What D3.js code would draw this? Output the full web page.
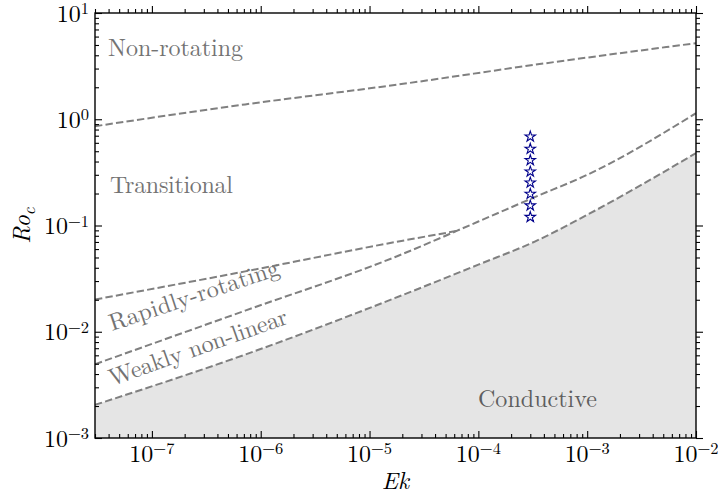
<!DOCTYPE html>
<html><head><meta charset="utf-8">
<script src="https://cdn.jsdelivr.net/npm/d3@7"></script>
<style>body{margin:0;background:#fff}svg{display:block}</style>
</head><body><svg id="c" width="718" height="497"></svg>
<script>
// ---- data ----
const xDomain = [3e-8, 1e-2];
const yDomain = [1e-3, 1e1];
const xTickValues = [1e-7, 1e-6, 1e-5, 1e-4, 1e-3, 1e-2];
const xTickExps = ["−7", "−6", "−5", "−4", "−3", "−2"];
const yTickValues = [1e-3, 1e-2, 1e-1, 1e0, 1e1];
const yTickExps = ["−3", "−2", "−1", "0", "1"];

// Non-rotating / Transitional boundary
const ekNonRot = [3e-8, 7.2e-7, 1.7e-5, 4.1e-4, 1e-2];
const roNonRot = [0.86, 1.38, 2.1, 3.36, 5.2];
// Transitional / Rapidly-rotating boundary
const ekTrans = [3e-8, 7.2e-7, 1.7e-5, 6.6e-5];
const roTrans = [0.0201, 0.037, 0.0697, 0.0895];
// Rapidly-rotating / Weakly non-linear boundary
const ekRapid = [3e-8, 7.2e-7, 1.7e-5, 1e-4, 3.3e-4, 1e-3, 1e-2];
const roRapid = [0.00495, 0.0158, 0.0503, 0.109, 0.185, 0.3, 1.14];
// Onset of convection (Conductive boundary)
const ekOnset = [3e-8, 7.2e-7, 1.7e-5, 1e-4, 3.3e-4, 1e-3, 1e-2];
const roOnset = [0.00205, 0.0061, 0.0207, 0.0428, 0.0706, 0.126, 0.48];
// Simulations
const ekSims = [3e-4, 3e-4, 3e-4, 3e-4, 3e-4, 3e-4, 3e-4, 3e-4];
const roSims = [0.686, 0.526, 0.411, 0.321, 0.253, 0.198, 0.154, 0.120];

const regionNames = ["Non-rotating", "Transitional", "Rapidly-rotating", "Weakly non-linear", "Conductive"];

// ---- layout ----
const L = 95, R = 696, T = 13, B = 438;
const FONT = '"Latin Modern Roman", "Liberation Serif", "Times New Roman", serif';
const svg = d3.select("#c");
const x = d3.scaleLog().domain(xDomain).range([L, R]);
const y = d3.scaleLog().domain(yDomain).range([B, T]);

const zip = (a, b) => a.map((v, i) => [v, b[i]]);
const line = d3.line().x(d => x(d[0])).y(d => y(d[1])).curve(d3.curveMonotoneX);

svg.append("clipPath").attr("id", "clip").append("rect")
  .attr("x", L).attr("y", T).attr("width", R - L).attr("height", B - T);
const plot = svg.append("g").attr("clip-path", "url(#clip)");

// conductive fill
plot.append("path")
  .datum(zip(ekOnset, roOnset))
  .attr("d", d3.area().x(d => x(d[0])).y0(y(yDomain[0])).y1(d => y(d[1])).curve(d3.curveMonotoneX))
  .attr("fill", "#e5e5e5");

// boundary lines
[[ekNonRot, roNonRot], [ekTrans, roTrans], [ekRapid, roRapid], [ekOnset, roOnset]].forEach(([a, b]) => {
  plot.append("path").datum(zip(a, b)).attr("d", line)
    .attr("fill", "none").attr("stroke", "#808080").attr("stroke-width", 2)
    .attr("stroke-dasharray", "7.4,3.2");
});

// stars
plot.selectAll(".star").data(zip(ekSims, roSims)).enter().append("path")
  .attr("d", d3.symbol().type(d3.symbolStar).size(34))
  .attr("transform", d => `translate(${x(d[0])},${y(d[1])})`)
  .attr("fill", "none").attr("stroke", "#00008b").attr("stroke-width", 1.1);

function txt(sel) { return sel.append("text").style("font-family", FONT); }

// region labels
const labCol = "#737373";
function lab(s, px, py, w, rot, col) {
  txt(svg).attr("x", px).attr("y", py)
    .attr("transform", rot ? `rotate(${rot},${px},${py})` : null)
    .attr("font-size", 24).attr("fill", col || labCol)
    .attr("textLength", w).attr("lengthAdjust", "spacing")
    .text(s);
}
lab(regionNames[0], 108, 56, 135);
lab(regionNames[1], 110, 193, 123);
lab(regionNames[2], 112, 331, 178, -18.5);
lab(regionNames[3], 112, 386, 188, -19.5);
lab(regionNames[4], 478, 407, 119, 0, "#5e5e5e");

// minor ticks
const minorX = [], minorY = [];
for (let d = -8; d <= -3; d++) for (let m = 2; m <= 9; m++) {
  const v = m * Math.pow(10, d);
  if (v > xDomain[0] && v < xDomain[1]) minorX.push(v);
}
for (let d = -3; d <= 0; d++) for (let m = 2; m <= 9; m++) minorY.push(m * Math.pow(10, d));

function axes(g, sc, vals, size, orient) {
  g.call(orient(sc).tickValues(vals).tickSize(size).tickFormat(""));
  g.select(".domain").remove();
  g.selectAll("line").attr("stroke", "#000").attr("stroke-width", 1.1);
}
const mk = (tx, ty) => svg.append("g").attr("transform", `translate(${tx},${ty})`);
axes(mk(0, B), x, xTickValues, -7, d3.axisBottom);
axes(mk(0, B), x, minorX, -4, d3.axisBottom);
axes(mk(0, T), x, xTickValues, 7, d3.axisTop);
axes(mk(0, T), x, minorX, 4, d3.axisTop);
axes(mk(L, 0), y, yTickValues, -7, d3.axisLeft);
axes(mk(L, 0), y, minorY, -4, d3.axisLeft);
axes(mk(R, 0), y, yTickValues, 7, d3.axisRight);
axes(mk(R, 0), y, minorY, 4, d3.axisRight);

svg.append("rect").attr("x", L).attr("y", T).attr("width", R - L).attr("height", B - T)
  .attr("fill", "none").attr("stroke", "#000").attr("stroke-width", 1.4);

// tick labels
xTickValues.forEach((v, i) => {
  const t = txt(svg).attr("x", x(v)).attr("y", B + 24)
    .attr("text-anchor", "middle").attr("font-size", 24).attr("fill", "#000");
  t.append("tspan").text("10");
  t.append("tspan").attr("dy", -8).attr("font-size", 16.5).text(xTickExps[i]);
});
yTickValues.forEach((v, i) => {
  const t = txt(svg).attr("x", L - 6).attr("y", y(v) + 8.5)
    .attr("text-anchor", "end").attr("font-size", 24).attr("fill", "#000");
  t.append("tspan").text("10");
  t.append("tspan").attr("dy", -7.5).attr("font-size", 16.5).text(yTickExps[i]);
});

// axis titles
txt(svg).attr("x", (L + R) / 2).attr("y", 489).attr("text-anchor", "middle")
  .attr("font-style", "italic").attr("font-size", 24).text("Ek");
const yt = txt(svg).attr("transform", `translate(30,${(T + B) / 2}) rotate(-90)`)
  .attr("text-anchor", "middle").attr("font-style", "italic").attr("font-size", 24);
yt.append("tspan").text("Ro");
yt.append("tspan").attr("dy", 5).attr("font-size", 17).text("c");
</script></body></html>
